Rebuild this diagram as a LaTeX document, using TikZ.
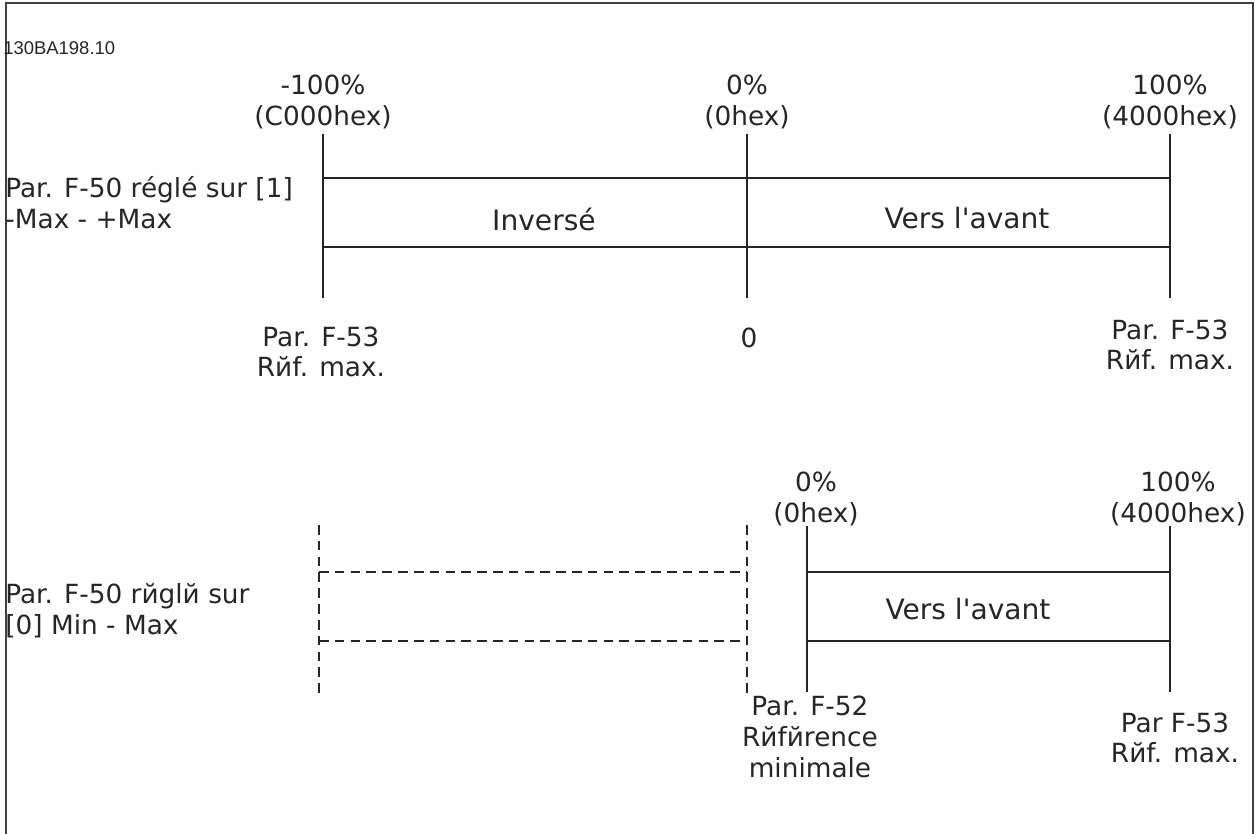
\documentclass[tikz,border=0pt]{standalone}
\usepackage{fontspec}
\setmainfont{DejaVu Sans}
\newfontfamily\tagfont{Liberation Sans}
\newcommand{\sq}{\XeTeXglyph\XeTeXglyphindex "quotesingle"\relax}
\begin{document}
\begin{tikzpicture}[x=0.02cm,y=-0.02cm,
  lbl/.style={inner sep=0pt,align=center,text=black!85,font=\fontsize{15}{17.5}\selectfont},
  big/.style={lbl,font=\fontsize{16}{18}\selectfont},
  lbll/.style={lbl,align=left,anchor=west},
  ln/.style={line width=0.6pt,draw=black!85},
  dln/.style={ln,dash pattern=on 5.5pt off 3.5pt},
  frame/.style={line width=1pt,draw=black!75}]
\useasboundingbox (0,0) rectangle (1255,834);
% frame
\draw[frame] (6,834) -- (6,3) -- (1253,3) -- (1253,834);
\node[inner sep=0pt,anchor=west,text=black!85,font=\tagfont\fontsize{10.5}{12}\selectfont] (tag) at (3,48) {130BA198.10};
% ---- top diagram ----
\coordinate (a1) at (323,134); \coordinate (a2) at (323,298);
\coordinate (b1) at (747,134); \coordinate (b2) at (747,298);
\coordinate (c1) at (1170,134); \coordinate (c2) at (1170,298);
\coordinate (h1l) at (323,178); \coordinate (h1r) at (1170,178);
\coordinate (h2l) at (323,247); \coordinate (h2r) at (1170,247);
\draw[ln] (a1) -- (a2);
\draw[ln] (b1) -- (b2);
\draw[ln] (c1) -- (c2);
\draw[ln] (h1l) -- (h1r);
\draw[ln] (h2l) -- (h2r);
\node[lbl] (tA) at (323,102) {-100\%\\(C000hex)};
\node[lbl] (tB) at (747,102) {0\%\\(0hex)};
\node[lbl] (tC) at (1170,102) {100\%\\(4000hex)};
\node[big] (inv) at (544,219) {Inversé};
\node[big] (fwd1) at (967,218) {Vers l\sq avant};
\node[lbll] (left1) at (5,203) {Par. F-50 réglé sur [1]\\-Max - +Max};
\node[lbl] (bA) at (321,352) {Par. F-53\\Rйf. max.};
\node[lbl] (bB) at (749,338) {0};
\node[lbl] (bC) at (1170,345) {Par. F-53\\Rйf. max.};
% ---- bottom diagram ----
\coordinate (d1) at (319,525); \coordinate (d2) at (319,693);
\coordinate (e1) at (747,525); \coordinate (e2) at (747,693);
\coordinate (dh1l) at (319,572); \coordinate (dh1r) at (747,572);
\coordinate (dh2l) at (319,641); \coordinate (dh2r) at (747,641);
\draw[dln] (d1) -- (d2);
\draw[dln] (e1) -- (e2);
\draw[dln] (dh1l) -- (dh1r);
\draw[dln] (dh2l) -- (dh2r);
\coordinate (f1) at (807,526); \coordinate (f2) at (807,692);
\coordinate (g1) at (1170,526); \coordinate (g2) at (1170,692);
\coordinate (fh1l) at (807,572); \coordinate (fh1r) at (1170,572);
\coordinate (fh2l) at (807,641); \coordinate (fh2r) at (1170,641);
\draw[ln] (f1) -- (f2);
\draw[ln] (g1) -- (g2);
\draw[ln] (fh1l) -- (fh1r);
\draw[ln] (fh2l) -- (fh2r);
\node[lbl] (tF) at (816,499) {0\%\\(0hex)};
\node[lbl] (tG) at (1178,499) {100\%\\(4000hex)};
\node[big] (fwd2) at (968,609) {Vers l\sq avant};
\node[lbll] (left2) at (5,611) {Par. F-50 rйglй sur\\{[0]} Min - Max};
\node[lbl] (bF) at (810,737) {Par. F-52\\Rйfйrence\\minimale};
\node[lbl] (bG) at (1175,738) {Par F-53\\Rйf. max.};
\end{tikzpicture}
\end{document}
